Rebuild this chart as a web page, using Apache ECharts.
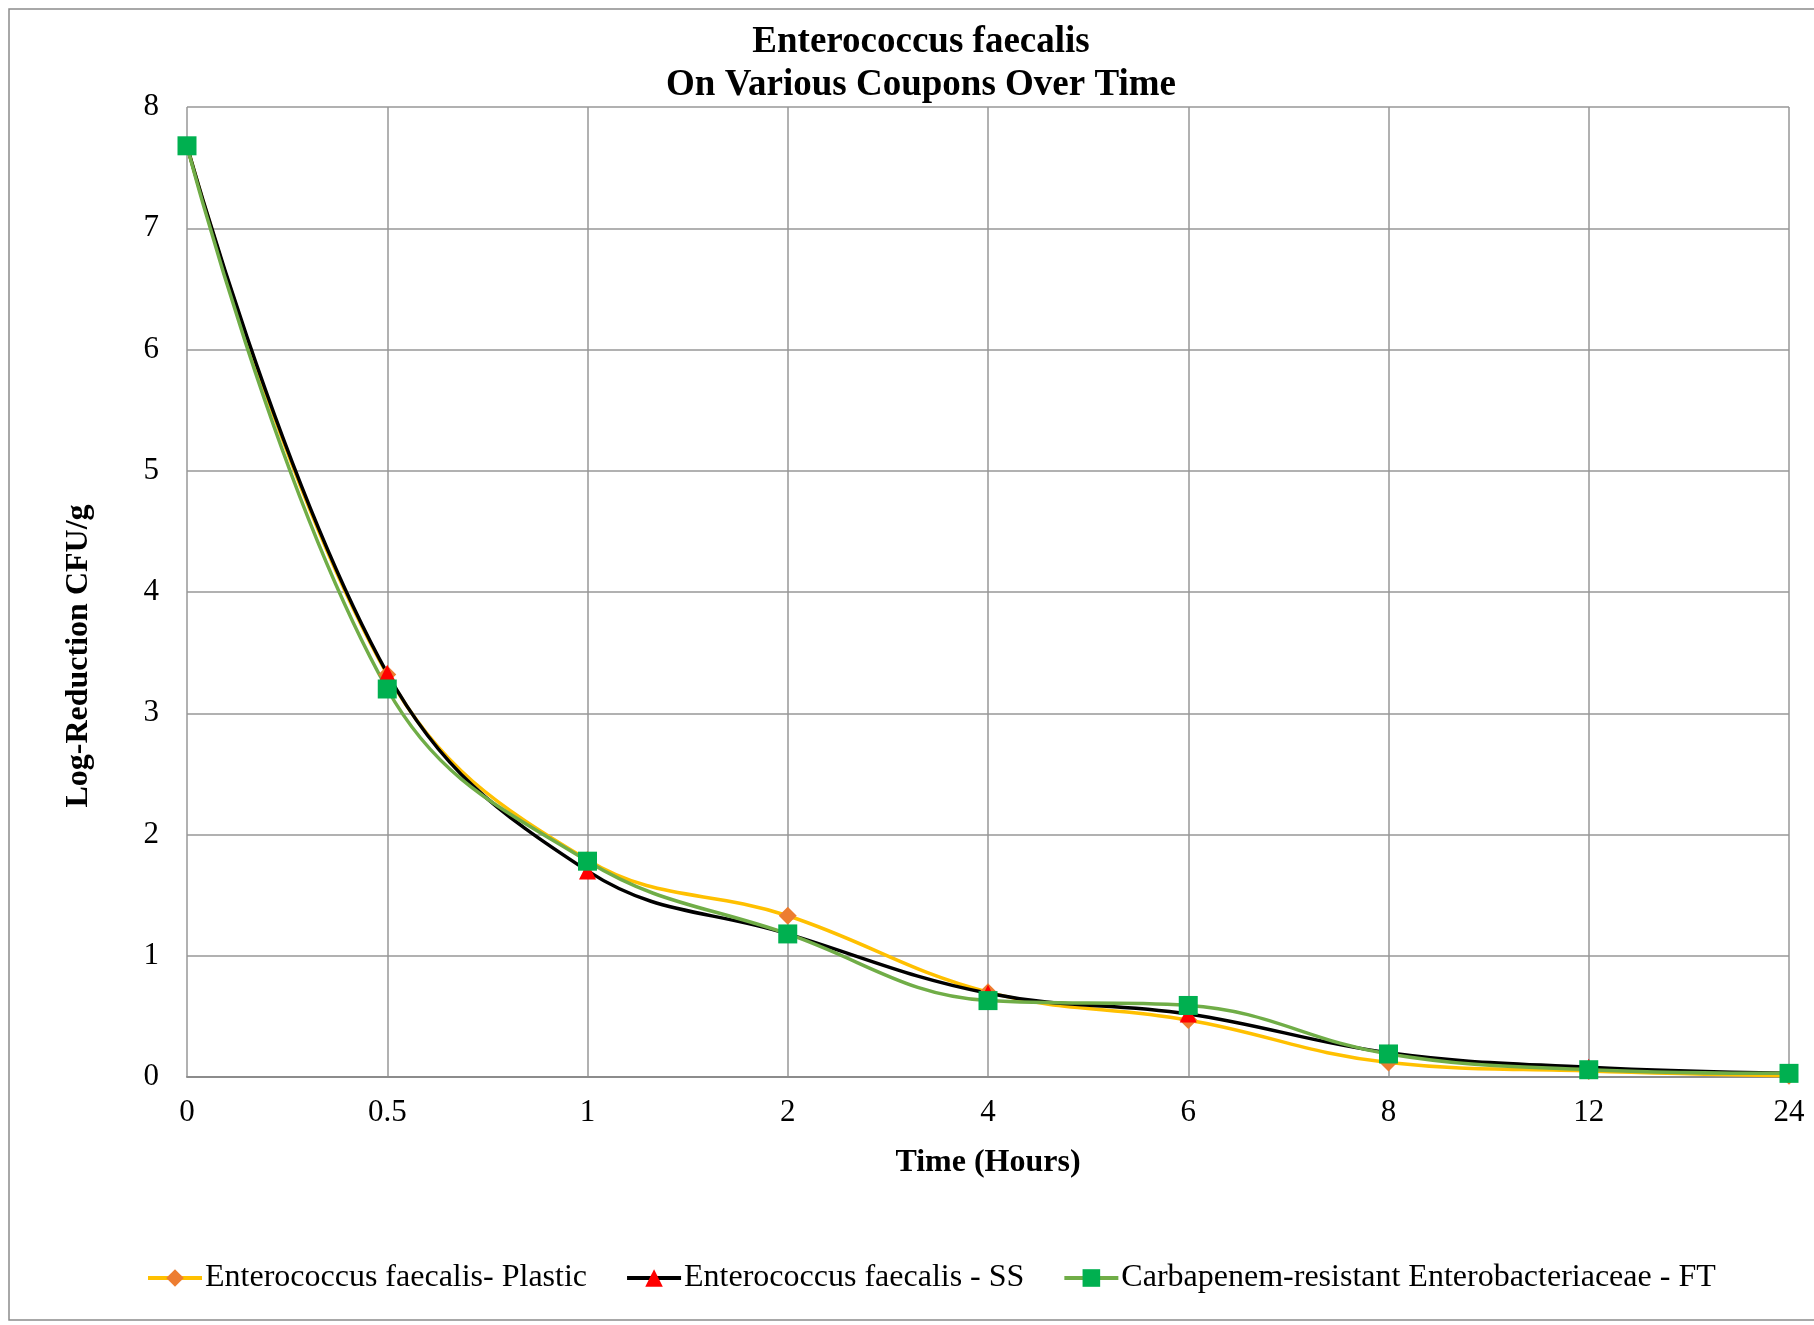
<!DOCTYPE html>
<html>
<head>
<meta charset="utf-8">
<script src="https://cdn.jsdelivr.net/npm/echarts@6/dist/echarts.min.js"></script>
<style>
html,body{margin:0;padding:0;background:#fff;}
#chart{width:1814px;height:1325px;}
</style>
</head>
<body>
<div id="chart"></div>
<script>
const categories = ['0', '0.5', '1', '2', '4', '6', '8', '12', '24'];
const plasticValues = [7.68, 3.32, 1.79, 1.33, 0.70, 0.47, 0.12, 0.05, 0.01];
const ssValues = [7.68, 3.33, 1.70, 1.18, 0.69, 0.52, 0.20, 0.08, 0.03];
const ftValues = [7.68, 3.20, 1.78, 1.18, 0.63, 0.59, 0.19, 0.06, 0.03];
const seriesNames = ['Enterococcus faecalis- Plastic', 'Enterococcus faecalis - SS', 'Carbapenem-resistant Enterobacteriaceae - FT'];
const titleLines = ['Enterococcus faecalis', 'On Various Coupons Over Time'];
const yTicks = [0, 1, 2, 3, 4, 5, 6, 7, 8];

const FONT = '"Liberation Serif", "Times New Roman", serif';
const chart = echarts.init(document.getElementById('chart'));

function mkSeries(name, data, lineColor, markColor, symbol, size) {
  return {
    name: name,
    type: 'line',
    data: data,
    smooth: 0.4,
    symbol: symbol,
    symbolSize: size,
    showAllSymbol: true,
    lineStyle: { color: lineColor, width: 3.5 },
    itemStyle: { color: markColor, borderWidth: 0 },
    emphasis: { disabled: true },
    z: 3
  };
}

chart.setOption({
  animation: false,
  backgroundColor: '#fff',
  title: {
    text: titleLines.join('\n'),
    left: 916,
    textAlign: 'center',
    top: 16,
    textStyle: { fontFamily: FONT, fontSize: 37, fontWeight: 'bold', color: '#000', lineHeight: 43 }
  },
  grid: { left: 187, right: 25, top: 107, bottom: 248, containLabel: false },
  legend: {
    bottom: 26,
    left: 141,
    itemWidth: 54,
    itemHeight: 22,
    itemGap: 38,
    lineStyle: { width: 4 },
    textStyle: { fontFamily: FONT, fontSize: 32, color: '#000', padding: [0, 0, 0, -2] },
    data: seriesNames
  },
  xAxis: {
    type: 'category',
    data: categories,
    boundaryGap: false,
    name: 'Time (Hours)',
    nameLocation: 'middle',
    nameGap: 70,
    nameTextStyle: { fontFamily: FONT, fontSize: 32, fontWeight: 'bold', color: '#000' },
    axisLine: { lineStyle: { color: '#8c8c8c', width: 2 } },
    axisTick: { show: false },
    axisLabel: { fontFamily: FONT, fontSize: 31, color: '#000', margin: 20 },
    splitLine: { show: true, lineStyle: { color: '#979797', width: 1.5 } }
  },
  yAxis: {
    type: 'value',
    min: yTicks[0],
    max: yTicks[yTicks.length - 1],
    interval: 1,
    axisLine: { show: false },
    axisTick: { show: false },
    axisLabel: { fontFamily: FONT, fontSize: 31, color: '#000', margin: 28 },
    splitLine: { show: true, lineStyle: { color: '#979797', width: 1.5 } }
  },
  graphic: [
    {
      type: 'rect',
      shape: { x: 9, y: 9, width: 1830, height: 1311 },
      style: { fill: 'none', stroke: '#8c8c8c', lineWidth: 1.5 },
      silent: true
    },
    {
      type: 'text',
      x: 79,
      y: 656,
      rotation: Math.PI / 2,
      style: {
        text: 'Log-Reduction CFU/g',
        fontFamily: FONT,
        fontSize: 32,
        fontWeight: 'bold',
        fill: '#000',
        align: 'center',
        verticalAlign: 'middle'
      }
    }
  ],
  series: [
    mkSeries(seriesNames[0], plasticValues, '#FFC000', '#ED7D31', 'diamond', 18),
    mkSeries(seriesNames[1], ssValues, '#000000', '#FF0000', 'triangle', 17),
    mkSeries(seriesNames[2], ftValues, '#70AD47', '#00B050', 'rect', 19)
  ]
});
</script>
</body>
</html>
